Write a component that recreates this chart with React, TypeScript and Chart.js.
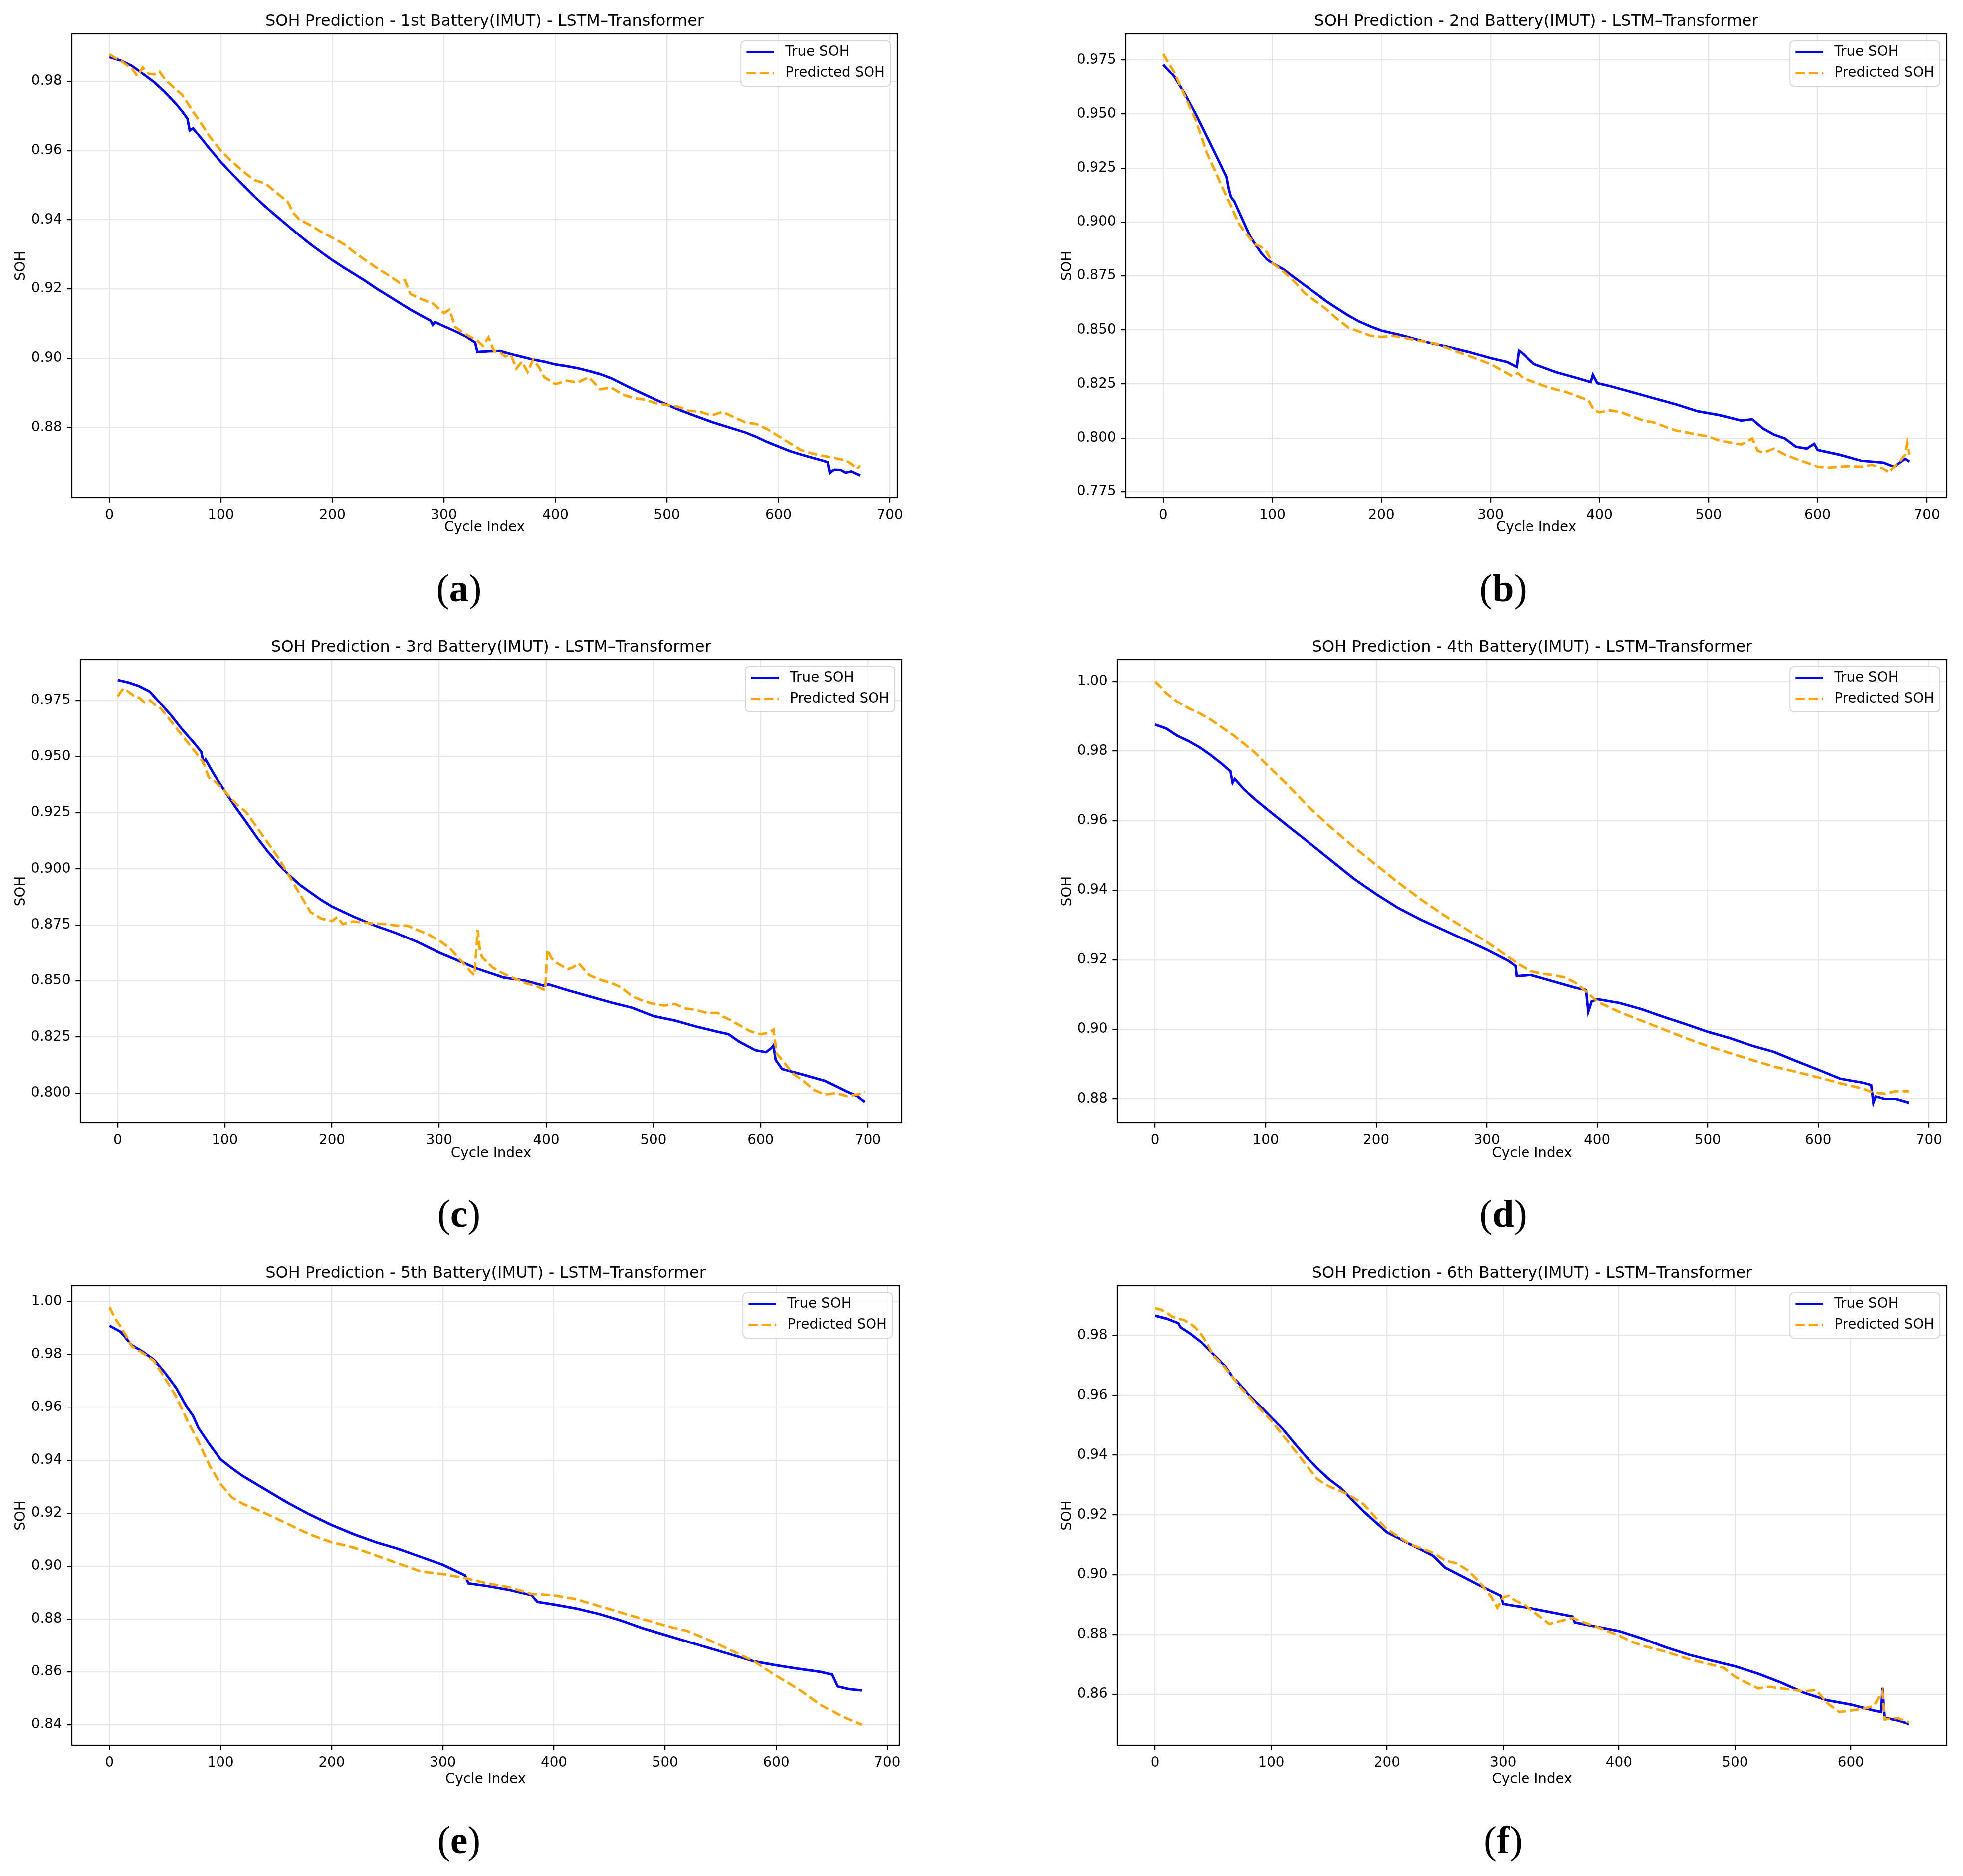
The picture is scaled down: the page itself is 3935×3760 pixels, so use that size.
import { useEffect, useRef } from "react";
import { Chart, registerables } from "chart.js";

Chart.register(...registerables);

const FONT = "'DejaVu Sans', sans-serif";

// ---- shared ticks ----
const xTicks700 = [0, 100, 200, 300, 400, 500, 600, 700];
const xTicks600 = [0, 100, 200, 300, 400, 500, 600];

// ---- (a) 1st battery ----
const aTrueX = [0, 10, 20, 30, 40, 50, 60, 66, 70, 72, 75, 80, 90, 100, 110, 120, 130, 140, 150, 160, 170, 180, 190, 200, 210, 220, 230, 240, 250, 260, 270, 280, 288, 290, 292, 300, 310, 320, 328, 330, 340, 350, 360, 370, 380, 390, 400, 410, 420, 430, 440, 450, 460, 470, 480, 490, 500, 510, 520, 530, 540, 550, 560, 570, 580, 590, 600, 610, 620, 630, 640, 644, 646, 650, 655, 660, 665, 673];
const aTrueY = [0.9870, 0.9860, 0.9845, 0.9822, 0.9798, 0.9768, 0.9734, 0.9710, 0.9692, 0.9658, 0.9664, 0.9645, 0.9605, 0.9567, 0.9533, 0.9500, 0.9468, 0.9438, 0.9410, 0.9383, 0.9356, 0.9330, 0.9306, 0.9283, 0.9262, 0.9242, 0.9222, 0.9200, 0.9180, 0.9160, 0.9140, 0.9122, 0.9108, 0.9096, 0.9104, 0.9092, 0.9078, 0.9062, 0.9045, 0.9018, 0.9020, 0.9021, 0.9012, 0.9004, 0.8996, 0.8990, 0.8982, 0.8977, 0.8971, 0.8963, 0.8954, 0.8942, 0.8926, 0.8910, 0.8895, 0.8880, 0.8866, 0.8852, 0.8840, 0.8828, 0.8816, 0.8806, 0.8796, 0.8786, 0.8773, 0.8758, 0.8745, 0.8732, 0.8722, 0.8713, 0.8704, 0.8700, 0.8668, 0.8678, 0.8677, 0.8668, 0.8672, 0.8660];
const aPredX = [0, 5, 10, 15, 20, 25, 30, 35, 40, 45, 50, 55, 60, 65, 70, 75, 80, 85, 90, 95, 100, 110, 120, 130, 140, 150, 160, 165, 170, 180, 190, 200, 210, 220, 230, 240, 250, 260, 265, 270, 280, 290, 300, 305, 310, 320, 330, 335, 340, 345, 350, 355, 360, 365, 370, 375, 380, 385, 390, 395, 400, 410, 420, 430, 440, 450, 460, 470, 480, 490, 500, 510, 520, 530, 540, 550, 560, 570, 580, 590, 600, 610, 620, 630, 640, 650, 660, 665, 670, 673];
const aPredY = [0.9878, 0.9868, 0.9860, 0.9848, 0.9838, 0.9815, 0.9840, 0.9822, 0.9820, 0.9828, 0.9805, 0.9790, 0.9775, 0.9762, 0.9738, 0.9712, 0.9690, 0.9665, 0.9640, 0.9620, 0.9600, 0.9568, 0.9540, 0.9515, 0.9505, 0.9478, 0.9452, 0.9420, 0.9402, 0.9385, 0.9365, 0.9348, 0.9330, 0.9305, 0.9282, 0.9260, 0.9240, 0.9218, 0.9225, 0.9185, 0.9170, 0.9158, 0.9130, 0.9140, 0.9090, 0.9068, 0.9050, 0.9035, 0.9060, 0.9020, 0.9018, 0.9005, 0.9010, 0.8970, 0.8990, 0.8960, 0.8995, 0.8975, 0.8945, 0.8935, 0.8925, 0.8935, 0.8930, 0.8945, 0.8910, 0.8915, 0.8895, 0.8885, 0.8880, 0.8870, 0.8865, 0.8860, 0.8848, 0.8845, 0.8835, 0.8845, 0.8830, 0.8815, 0.8810, 0.8795, 0.8775, 0.8755, 0.8735, 0.8725, 0.8718, 0.8712, 0.8705, 0.8695, 0.8680, 0.8690];
const aYTicks = [0.88, 0.9, 0.92, 0.94, 0.96, 0.98];

// ---- (b) 2nd battery ----
const bTrueX = [0, 10, 20, 30, 40, 50, 58, 60, 62, 65, 70, 80, 90, 95, 100, 110, 120, 130, 140, 150, 160, 170, 180, 190, 200, 220, 240, 260, 280, 300, 315, 324, 326, 330, 340, 360, 380, 392, 394, 398, 410, 430, 450, 470, 490, 510, 530, 540, 550, 560, 570, 580, 590, 597, 600, 620, 640, 660, 670, 680, 684];
const bTrueY = [0.9728, 0.9675, 0.9592, 0.9498, 0.9396, 0.9293, 0.9209, 0.9153, 0.9116, 0.9097, 0.9041, 0.8929, 0.8855, 0.8827, 0.8809, 0.8781, 0.8743, 0.8706, 0.8669, 0.8631, 0.8598, 0.8566, 0.8538, 0.8516, 0.8497, 0.8473, 0.8445, 0.8423, 0.8398, 0.8370, 0.8352, 0.8329, 0.8404, 0.8389, 0.8342, 0.8305, 0.8277, 0.8259, 0.8292, 0.8254, 0.8240, 0.8212, 0.8184, 0.8156, 0.8124, 0.8106, 0.8081, 0.8087, 0.8044, 0.8016, 0.7998, 0.7960, 0.7951, 0.7973, 0.7945, 0.7923, 0.7895, 0.7886, 0.7867, 0.7904, 0.7891];
const bPredX = [0, 5, 10, 20, 30, 40, 50, 60, 65, 70, 80, 85, 90, 95, 100, 110, 120, 130, 140, 150, 160, 170, 180, 190, 200, 210, 220, 230, 240, 250, 260, 270, 280, 290, 300, 310, 320, 325, 330, 340, 350, 360, 370, 380, 390, 395, 400, 410, 420, 430, 440, 450, 460, 470, 480, 490, 500, 510, 520, 530, 540, 545, 550, 560, 570, 580, 590, 600, 610, 620, 630, 640, 650, 660, 665, 670, 675, 680, 682, 684];
const bPredY = [0.9778, 0.9735, 0.9694, 0.9582, 0.9470, 0.9321, 0.9209, 0.9097, 0.9040, 0.8986, 0.8920, 0.8895, 0.8883, 0.8860, 0.8809, 0.8771, 0.8725, 0.8669, 0.8631, 0.8594, 0.8548, 0.8510, 0.8492, 0.8473, 0.8467, 0.8473, 0.8464, 0.8454, 0.8445, 0.8436, 0.8417, 0.8398, 0.8380, 0.8361, 0.8342, 0.8314, 0.8286, 0.8300, 0.8277, 0.8259, 0.8240, 0.8225, 0.8212, 0.8193, 0.8175, 0.8128, 0.8119, 0.8128, 0.8119, 0.8100, 0.8081, 0.8072, 0.8053, 0.8035, 0.8026, 0.8016, 0.8007, 0.7988, 0.7979, 0.7970, 0.7998, 0.7942, 0.7932, 0.7951, 0.7923, 0.7904, 0.7886, 0.7867, 0.7863, 0.7867, 0.7870, 0.7867, 0.7876, 0.7858, 0.7839, 0.7867, 0.7890, 0.7923, 0.7977, 0.7923];
const bYTicks = [0.775, 0.8, 0.825, 0.85, 0.875, 0.9, 0.925, 0.95, 0.975];

// ---- (c) 3rd battery ----
const cTrueX = [0, 10, 20, 30, 40, 50, 60, 70, 78, 80, 82, 90, 100, 110, 120, 130, 140, 150, 160, 170, 180, 190, 200, 220, 240, 260, 280, 300, 320, 335, 360, 380, 398, 402, 420, 440, 460, 480, 500, 520, 540, 560, 570, 580, 595, 605, 610, 612, 614, 620, 640, 660, 680, 690, 697];
const cTrueY = [0.9842, 0.9831, 0.9815, 0.9790, 0.9737, 0.9683, 0.9622, 0.9568, 0.9521, 0.9474, 0.9487, 0.9420, 0.9346, 0.9275, 0.9208, 0.9140, 0.9078, 0.9022, 0.8972, 0.8929, 0.8895, 0.8861, 0.8832, 0.8787, 0.8747, 0.8713, 0.8673, 0.8626, 0.8586, 0.8555, 0.8515, 0.8501, 0.8478, 0.8484, 0.8458, 0.8431, 0.8404, 0.8380, 0.8343, 0.8323, 0.8296, 0.8273, 0.8262, 0.8229, 0.8191, 0.8182, 0.8200, 0.8212, 0.8148, 0.8107, 0.8081, 0.8054, 0.8007, 0.7986, 0.7960];
const cPredX = [0, 5, 10, 15, 20, 25, 30, 35, 40, 50, 60, 70, 80, 85, 90, 100, 110, 120, 130, 140, 150, 160, 170, 180, 190, 200, 205, 210, 220, 230, 240, 250, 260, 270, 280, 290, 300, 310, 320, 330, 333, 336, 338, 340, 350, 360, 370, 380, 390, 399, 401, 405, 410, 420, 425, 430, 440, 450, 460, 470, 480, 490, 500, 510, 520, 530, 540, 550, 560, 565, 570, 580, 590, 600, 608, 612, 615, 620, 630, 640, 650, 660, 670, 680, 690, 697];
const cPredY = [0.9770, 0.9804, 0.9790, 0.9772, 0.9763, 0.9742, 0.9752, 0.9730, 0.9716, 0.9656, 0.9595, 0.9535, 0.9474, 0.9407, 0.9393, 0.9346, 0.9292, 0.9252, 0.9185, 0.9117, 0.9050, 0.8969, 0.8888, 0.8807, 0.8778, 0.8767, 0.8785, 0.8754, 0.8765, 0.8760, 0.8756, 0.8754, 0.8747, 0.8747, 0.8727, 0.8707, 0.8680, 0.8646, 0.8592, 0.8538, 0.8525, 0.8727, 0.8640, 0.8606, 0.8559, 0.8532, 0.8511, 0.8491, 0.8478, 0.8458, 0.8639, 0.8600, 0.8579, 0.8552, 0.8560, 0.8579, 0.8525, 0.8505, 0.8491, 0.8471, 0.8431, 0.8411, 0.8397, 0.8390, 0.8397, 0.8377, 0.8370, 0.8357, 0.8357, 0.8340, 0.8330, 0.8303, 0.8276, 0.8262, 0.8269, 0.8283, 0.8175, 0.8148, 0.8087, 0.8054, 0.8013, 0.7993, 0.8000, 0.7986, 0.7993, 0.8004];
const cYTicks = [0.8, 0.825, 0.85, 0.875, 0.9, 0.925, 0.95, 0.975];

// ---- (d) 4th battery ----
const dTrueX = [0, 10, 20, 30, 40, 50, 60, 68, 70, 72, 80, 90, 100, 120, 140, 160, 180, 200, 220, 240, 260, 280, 300, 320, 326, 327, 340, 360, 380, 390, 392, 395, 400, 420, 440, 460, 480, 500, 520, 540, 560, 580, 600, 620, 640, 648, 650, 652, 660, 670, 682];
const dTrueY = [0.9876, 0.9865, 0.9844, 0.9829, 0.9811, 0.9789, 0.9764, 0.9742, 0.9709, 0.9720, 0.9691, 0.9662, 0.9636, 0.9585, 0.9535, 0.9484, 0.9433, 0.9389, 0.9349, 0.9316, 0.9287, 0.9258, 0.9229, 0.9196, 0.9182, 0.9153, 0.9156, 0.9138, 0.9120, 0.9113, 0.9051, 0.9080, 0.9087, 0.9076, 0.9058, 0.9036, 0.9015, 0.8993, 0.8975, 0.8953, 0.8935, 0.8909, 0.8884, 0.8858, 0.8847, 0.8840, 0.8789, 0.8807, 0.8800, 0.8800, 0.8789];
const dPredX = [0, 5, 10, 20, 30, 40, 50, 60, 70, 80, 90, 100, 120, 140, 160, 180, 200, 220, 240, 260, 280, 300, 320, 330, 340, 350, 360, 370, 380, 390, 400, 420, 440, 460, 480, 500, 520, 540, 560, 580, 600, 620, 640, 650, 660, 670, 682];
const dPredY = [1.0, 0.9985, 0.9967, 0.9942, 0.9924, 0.9909, 0.9891, 0.9869, 0.9847, 0.9822, 0.9796, 0.9764, 0.9702, 0.9636, 0.9578, 0.9524, 0.9473, 0.9422, 0.9375, 0.9331, 0.9291, 0.9251, 0.9207, 0.9185, 0.9167, 0.9160, 0.9156, 0.9150, 0.9135, 0.9109, 0.9080, 0.9050, 0.9025, 0.9000, 0.8975, 0.8952, 0.8932, 0.8912, 0.8893, 0.8878, 0.8862, 0.8845, 0.8830, 0.8818, 0.8815, 0.8822, 0.8822];
const dYTicks = [0.88, 0.9, 0.92, 0.94, 0.96, 0.98, 1.0];

// ---- (e) 5th battery ----
const eTrueX = [0, 10, 20, 30, 40, 50, 60, 70, 75, 80, 90, 100, 110, 120, 140, 160, 180, 200, 220, 240, 260, 280, 300, 320, 323, 340, 360, 380, 385, 400, 420, 440, 460, 480, 500, 520, 540, 560, 580, 600, 620, 640, 650, 655, 665, 677];
const eTrueY = [0.9908, 0.9885, 0.9835, 0.9810, 0.9780, 0.9730, 0.9673, 0.9598, 0.9569, 0.9522, 0.9460, 0.9403, 0.9370, 0.9340, 0.9290, 0.9240, 0.9195, 0.9155, 0.9120, 0.9090, 0.9065, 0.9035, 0.9005, 0.8965, 0.8935, 0.8925, 0.8910, 0.8890, 0.8865, 0.8855, 0.8840, 0.8820, 0.8795, 0.8765, 0.8740, 0.8715, 0.8690, 0.8665, 0.8640, 0.8625, 0.8612, 0.8600, 0.8590, 0.8545, 0.8535, 0.8530];
const ePredX = [0, 5, 10, 15, 20, 30, 40, 50, 60, 70, 80, 90, 100, 110, 120, 140, 160, 180, 200, 220, 240, 260, 280, 300, 320, 340, 360, 380, 400, 420, 440, 460, 480, 500, 520, 540, 560, 580, 600, 620, 640, 660, 677];
const ePredY = [0.9978, 0.9935, 0.9905, 0.9870, 0.9830, 0.9805, 0.9775, 0.9710, 0.9640, 0.9550, 0.9470, 0.9380, 0.9310, 0.9260, 0.9235, 0.9200, 0.9160, 0.9120, 0.9090, 0.9070, 0.9040, 0.9010, 0.8980, 0.8970, 0.8955, 0.8935, 0.8920, 0.8895, 0.8890, 0.8875, 0.8850, 0.8825, 0.8800, 0.8775, 0.8755, 0.8720, 0.8680, 0.8640, 0.8585, 0.8535, 0.8475, 0.8430, 0.8400];
const eYTicks = [0.84, 0.86, 0.88, 0.9, 0.92, 0.94, 0.96, 0.98, 1.0];

// ---- (f) 6th battery ----
const fTrueX = [0, 10, 20, 22, 30, 40, 50, 60, 68, 70, 80, 90, 100, 110, 120, 130, 140, 150, 160, 170, 180, 190, 200, 210, 220, 230, 240, 250, 260, 270, 280, 290, 298, 300, 310, 320, 340, 360, 362, 380, 400, 420, 440, 460, 480, 500, 520, 540, 560, 580, 600, 620, 626, 627, 629, 640, 650];
const fTrueY = [0.9866, 0.9856, 0.9841, 0.9827, 0.9807, 0.9777, 0.9738, 0.9699, 0.9654, 0.9649, 0.9605, 0.9566, 0.9526, 0.9487, 0.9440, 0.9395, 0.9355, 0.9319, 0.9290, 0.9250, 0.9211, 0.9176, 0.9142, 0.9122, 0.9102, 0.9083, 0.9063, 0.9024, 0.9004, 0.8984, 0.8964, 0.8945, 0.8930, 0.8903, 0.8896, 0.8891, 0.8876, 0.8861, 0.8841, 0.8827, 0.8812, 0.8787, 0.8758, 0.8733, 0.8713, 0.8694, 0.8669, 0.8639, 0.8605, 0.8580, 0.8566, 0.8546, 0.8541, 0.8622, 0.8522, 0.8513, 0.8501];
const fPredX = [0, 5, 10, 15, 20, 25, 30, 35, 40, 45, 50, 60, 70, 75, 80, 90, 100, 110, 120, 130, 140, 150, 160, 170, 180, 190, 200, 210, 220, 230, 240, 250, 260, 270, 280, 290, 295, 300, 305, 310, 320, 330, 340, 350, 360, 370, 380, 390, 400, 410, 420, 440, 460, 480, 490, 500, 510, 520, 530, 540, 550, 560, 570, 580, 590, 600, 610, 620, 627, 629, 640, 650];
const fPredY = [0.9891, 0.9886, 0.9876, 0.9862, 0.9856, 0.9851, 0.9841, 0.9825, 0.9802, 0.9772, 0.9733, 0.9694, 0.9644, 0.9620, 0.9600, 0.9556, 0.9516, 0.9467, 0.9418, 0.9368, 0.9319, 0.9295, 0.9280, 0.9260, 0.9235, 0.9191, 0.9152, 0.9127, 0.9102, 0.9088, 0.9073, 0.9048, 0.9038, 0.9014, 0.8974, 0.8925, 0.8890, 0.8925, 0.8930, 0.8915, 0.8896, 0.8866, 0.8836, 0.8846, 0.8856, 0.8841, 0.8827, 0.8812, 0.8797, 0.8778, 0.8763, 0.8743, 0.8718, 0.8699, 0.8689, 0.8659, 0.8639, 0.8620, 0.8625, 0.8620, 0.8615, 0.8610, 0.8615, 0.8570, 0.8541, 0.8546, 0.8551, 0.8561, 0.8610, 0.8516, 0.8521, 0.8506];
const fYTicks = [0.86, 0.88, 0.9, 0.92, 0.94, 0.96, 0.98];

type Spec = {
  letter: string;
  title: string;
  col: number;
  row: number;
  left: number;
  right: number;
  trueX: number[];
  trueY: number[];
  predX: number[];
  predY: number[];
  xRange: [number, number];
  yRange: [number, number];
  xTicks: number[];
  yTicks: number[];
  digits: number;
};

const panels: Spec[] = [
  { letter: "a", title: "SOH Prediction - 1st Battery(IMUT) - LSTM–Transformer", col: 0, row: 0, left: 144, right: 1799, trueX: aTrueX, trueY: aTrueY, predX: aPredX, predY: aPredY, xRange: [-33.65, 706.65], yRange: [0.8596, 0.9937], xTicks: xTicks700, yTicks: aYTicks, digits: 2 },
  { letter: "b", title: "SOH Prediction - 2nd Battery(IMUT) - LSTM–Transformer", col: 1, row: 0, left: 2257, right: 3902, trueX: bTrueX, trueY: bTrueY, predX: bPredX, predY: bPredY, xRange: [-34.2, 718.2], yRange: [0.7722, 0.9871], xTicks: xTicks700, yTicks: bYTicks, digits: 3 },
  { letter: "c", title: "SOH Prediction - 3rd Battery(IMUT) - LSTM–Transformer", col: 0, row: 1, left: 161, right: 1808, trueX: cTrueX, trueY: cTrueY, predX: cPredX, predY: cPredY, xRange: [-34.85, 731.85], yRange: [0.7868, 0.9933], xTicks: xTicks700, yTicks: cYTicks, digits: 3 },
  { letter: "d", title: "SOH Prediction - 4th Battery(IMUT) - LSTM–Transformer", col: 1, row: 1, left: 2240, right: 3902, trueX: dTrueX, trueY: dTrueY, predX: dPredX, predY: dPredY, xRange: [-34.1, 716.1], yRange: [0.8732, 1.0063], xTicks: xTicks700, yTicks: dYTicks, digits: 2 },
  { letter: "e", title: "SOH Prediction - 5th Battery(IMUT) - LSTM–Transformer", col: 0, row: 2, left: 144, right: 1803, trueX: eTrueX, trueY: eTrueY, predX: ePredX, predY: ePredY, xRange: [-33.85, 710.85], yRange: [0.8323, 1.0059], xTicks: xTicks700, yTicks: eYTicks, digits: 2 },
  { letter: "f", title: "SOH Prediction - 6th Battery(IMUT) - LSTM–Transformer", col: 1, row: 2, left: 2240, right: 3902, trueX: fTrueX, trueY: fTrueY, predX: fPredX, predY: fPredY, xRange: [-32.5, 682.5], yRange: [0.843, 0.9966], xTicks: xTicks600, yTicks: fYTicks, digits: 2 },
];

// page geometry (px)
const COL_X = [0, 1968];
const COL_W = [1968, 1967];
const Y_TITLE_X = [43, 2140];
const LABEL_X = [920, 3013];
const ROW_TOP = [68, 1322, 2577];
const ROW_BOTTOM = [998, 2250, 3498];
const CANVAS_H = 1110;
const TICK_FS = 27.8;
const TITLE_FS = 32;
const LINE_W = 5;
const DASH = [18.5, 8];

const pts = (xs: number[], ys: number[]) => xs.map((x, i) => ({ x, y: ys[i] }));

const framePlugin = {
  id: "axesFrame",
  afterDatasetsDraw(chart: any) {
    const { ctx, chartArea: a } = chart;
    ctx.save();
    ctx.strokeStyle = "#000";
    ctx.lineWidth = 2.2;
    ctx.strokeRect(a.left, a.top, a.right - a.left, a.bottom - a.top);
    ctx.restore();
  },
};

// matplotlib-style legend inside the upper right corner
const boxLegend = {
  id: "boxLegend",
  afterDraw(chart: any) {
    const { ctx, chartArea: a } = chart;
    const fs = TICK_FS;
    const sets = chart.data.datasets;
    ctx.save();
    ctx.font = `${fs}px ${FONT}`;
    const textW = Math.max(...sets.map((d: any) => ctx.measureText(d.label).width));
    const pad = 0.4 * fs;
    const handle = 2 * fs;
    const gap = 0.8 * fs;
    const w = pad + handle + gap + textW + pad;
    const h = 91;
    const x0 = a.right - 0.5 * fs - w;
    const y0 = a.top + 0.5 * fs;
    ctx.beginPath();
    ctx.roundRect(x0, y0, w, h, 8);
    ctx.fillStyle = "rgba(255,255,255,0.8)";
    ctx.fill();
    ctx.strokeStyle = "rgba(204,204,204,0.8)";
    ctx.lineWidth = 2;
    ctx.stroke();
    sets.forEach((d: any, i: number) => {
      const cy = y0 + 22.5 + i * 42;
      ctx.beginPath();
      ctx.setLineDash(d.borderDash || []);
      ctx.strokeStyle = d.borderColor;
      ctx.lineWidth = d.borderWidth;
      ctx.moveTo(x0 + pad, cy);
      ctx.lineTo(x0 + pad + handle, cy);
      ctx.stroke();
      ctx.setLineDash([]);
      ctx.fillStyle = "#000";
      ctx.textAlign = "left";
      ctx.textBaseline = "middle";
      ctx.fillText(d.label, x0 + pad + handle + gap, cy);
    });
    ctx.restore();
  },
};

function Panel({ spec }: { spec: Spec }) {
  const chartRef = useRef<Chart | null>(null);
  const canvasRef = useRef<HTMLCanvasElement | null>(null);

  const cx = COL_X[spec.col];
  const cw = COL_W[spec.col];
  const cy = ROW_TOP[spec.row] - 68;

  useEffect(() => {
    const l = spec.left - cx;
    const r = spec.right - cx;
    const t = ROW_TOP[spec.row] - cy;
    const b = ROW_BOTTOM[spec.row] - cy;
    const titleMid = t - 24;
    const axisLine = TICK_FS * 1.2;
    const xTitleMid = t + 990;
    const scaleBottom = xTitleMid + axisLine / 2;
    const padLeft = Y_TITLE_X[spec.col] - cx - axisLine / 2;

    const data = {
      datasets: [
        {
          label: "True SOH",
          data: pts(spec.trueX, spec.trueY),
          borderColor: "#0000ff",
          borderWidth: LINE_W,
          pointRadius: 0,
          fill: false,
          order: 2,
        },
        {
          label: "Predicted SOH",
          data: pts(spec.predX, spec.predY),
          borderColor: "#ffa500",
          borderWidth: LINE_W,
          borderDash: DASH,
          pointRadius: 0,
          fill: false,
          order: 1,
        },
      ],
    };

    const grid = {
      color: "#e6e6e6",
      lineWidth: 2.2,
      drawTicks: true,
      tickLength: 9.7,
      tickColor: "#000",
      tickWidth: 2.2,
    };

    const options: any = {
      animation: false,
      responsive: false,
      devicePixelRatio: 1,
      layout: {
        padding: { left: padLeft, right: cw - r, top: 0, bottom: CANVAS_H - scaleBottom },
      },
      plugins: {
        legend: { display: false },
        tooltip: { enabled: false },
        title: {
          display: true,
          text: spec.title,
          fullSize: false,
          color: "#000",
          font: { family: FONT, size: TITLE_FS, weight: "normal", lineHeight: 1.2 },
          padding: { top: titleMid - (TITLE_FS * 1.2) / 2, bottom: t - titleMid - (TITLE_FS * 1.2) / 2 },
        },
      },
      scales: {
        x: {
          type: "linear",
          min: spec.xRange[0],
          max: spec.xRange[1],
          afterBuildTicks: (axis: any) => {
            axis.ticks = spec.xTicks.map((v) => ({ value: v }));
          },
          afterFit: (axis: any) => {
            axis.height = scaleBottom - b;
          },
          grid,
          border: { display: false },
          ticks: {
            autoSkip: false,
            maxRotation: 0,
            padding: 9.7,
            color: "#000",
            font: { family: FONT, size: TICK_FS },
            callback: (v: any) => String(v),
          },
          title: {
            display: true,
            text: "Cycle Index",
            color: "#000",
            padding: 0,
            font: { family: FONT, size: TICK_FS, lineHeight: 1.2 },
          },
        },
        y: {
          type: "linear",
          min: spec.yRange[0],
          max: spec.yRange[1],
          afterBuildTicks: (axis: any) => {
            axis.ticks = spec.yTicks.map((v) => ({ value: v }));
          },
          afterFit: (axis: any) => {
            axis.width = l - padLeft;
          },
          grid,
          border: { display: false },
          ticks: {
            autoSkip: false,
            padding: 9.7,
            color: "#000",
            font: { family: FONT, size: TICK_FS },
            callback: (v: any) => Number(v).toFixed(spec.digits),
          },
          title: {
            display: true,
            text: "SOH",
            color: "#000",
            padding: 0,
            font: { family: FONT, size: TICK_FS, lineHeight: 1.2 },
          },
        },
      },
    };

    if (chartRef.current) {
      chartRef.current.destroy();
    }

    const ctx = canvasRef.current?.getContext("2d");
    if (ctx) {
      chartRef.current = new Chart(ctx, {
        type: "line",
        data: data as any,
        options,
        plugins: [framePlugin, boxLegend],
      });
    }

    return () => {
      if (chartRef.current) {
        chartRef.current.destroy();
        chartRef.current = null;
      }
    };
  }, [spec, cx, cw, cy]);

  return (
    <>
      <canvas
        ref={canvasRef}
        width={cw}
        height={CANVAS_H}
        style={{ position: "absolute", left: cx, top: cy, width: cw, height: CANVAS_H }}
      />
      <div
        style={{
          position: "absolute",
          left: LABEL_X[spec.col],
          top: ROW_TOP[spec.row] + 1119 - 8,
          transform: "translate(-50%, -50%)",
          fontFamily: "'Liberation Serif', 'Times New Roman', serif",
          fontSize: 78,
          lineHeight: 1,
          whiteSpace: "nowrap",
          color: "#000",
        }}
      >
        (<span style={{ fontWeight: "bold" }}>{spec.letter}</span>)
      </div>
    </>
  );
}

export default function App() {
  return (
    <div
      style={{
        position: "absolute",
        left: 0,
        top: 0,
        width: 3935,
        height: 3760,
        background: "#fff",
        overflow: "hidden",
      }}
    >
      {panels.map((p) => (
        <Panel key={p.letter} spec={p} />
      ))}
    </div>
  );
}
